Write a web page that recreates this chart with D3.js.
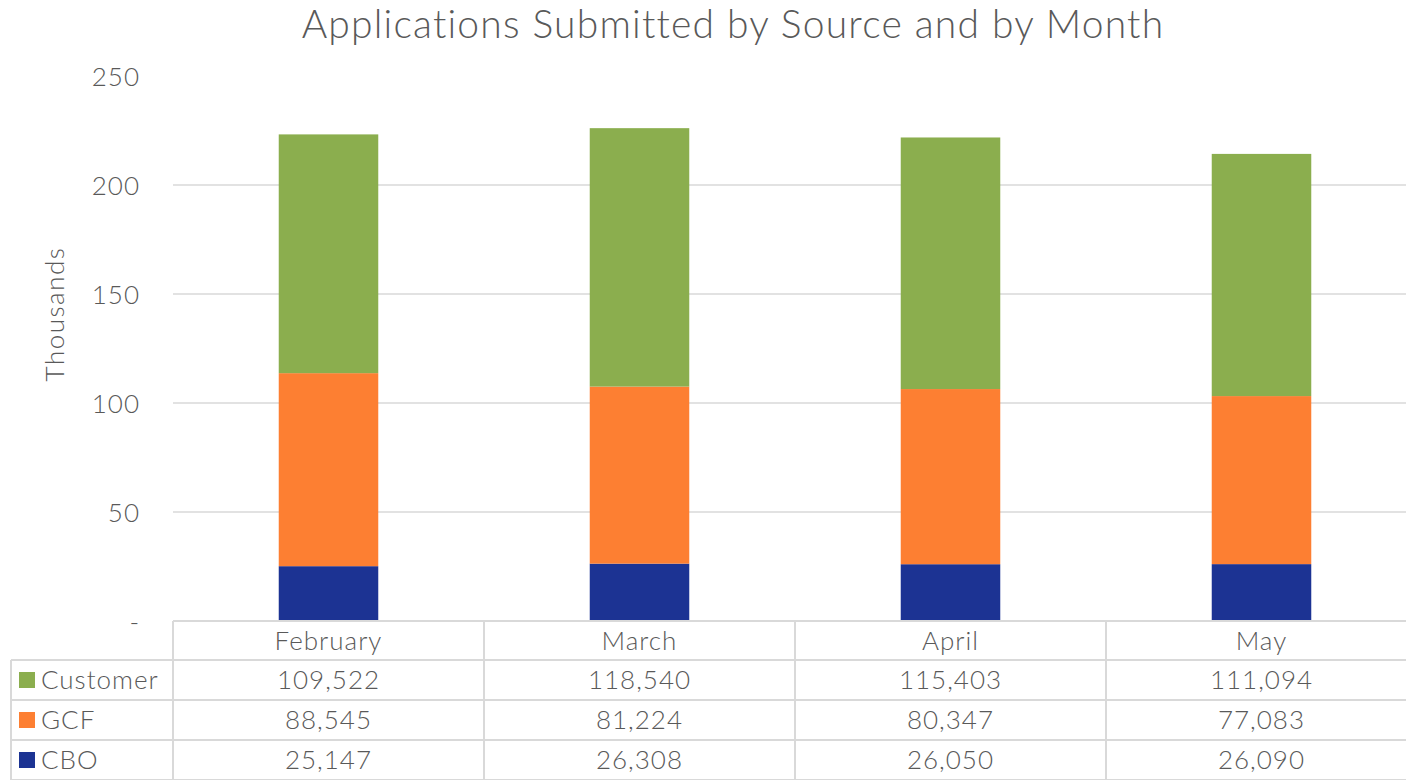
<!DOCTYPE html>
<html>
<head>
<meta charset="utf-8">
<script src="https://cdn.jsdelivr.net/npm/d3@7"></script>
<style>
  body { margin: 0; background: #fff; overflow: hidden; }
  text { font-family: Lato, "Open Sans", sans-serif; font-weight: 300; fill: #595959; letter-spacing: 1px; }
</style>
</head>
<body>
<svg id="chart" width="1406" height="780"></svg>
<script>
var months = ["February", "March", "April", "May"];
var seriesNames = ["CBO", "GCF", "Customer"];
var cbo = [25147, 26308, 26050, 26090];
var gcf = [88545, 81224, 80347, 77083];
var customer = [109522, 118540, 115403, 111094];
var yTicks = [0, 50, 100, 150, 200, 250];
var colors = { CBO: "#1c3393", GCF: "#fd7f32", Customer: "#8bae4e" };

var svg = d3.select("#chart");
var W = 1406, H = 780;
var plotLeft = 173, plotRight = 1417, plotTop = 76, plotBottom = 621;
var rowH = 40, headH = 39, legendLeft = 11;

// rows for stacking
var rows = months.map(function(m, i){
    return { month: m, CBO: cbo[i] / 1000, GCF: gcf[i] / 1000, Customer: customer[i] / 1000 };
});
var stacked = d3.stack().keys(seriesNames)(rows);

var x = d3.scaleBand().domain(months).range([plotLeft, plotRight]);
var y = d3.scaleLinear().domain([0, 250]).range([plotBottom, plotTop]);
var barW = x.bandwidth() * 0.32;

// gridlines (none drawn at the top value)
svg.append("g").selectAll("line")
    .data(yTicks.filter(function(t){ return t > 0 && t < 250; }))
    .enter().append("line")
    .attr("x1", plotLeft).attr("x2", plotRight)
    .attr("y1", function(d){ return y(d); }).attr("y2", function(d){ return y(d); })
    .attr("stroke", "#d9d9d9").attr("stroke-width", 1.5);

// y axis labels
var yAxis = d3.axisLeft(y).tickValues(yTicks).tickSize(0).tickPadding(0)
    .tickFormat(function(d){ return d === 0 ? "-" : d; });
var gy = svg.append("g").attr("transform", "translate(140,0)").call(yAxis);
gy.select(".domain").remove();
gy.selectAll("text").style("font-size", "26px").attr("fill", "#595959")
    .style("font-family", "Lato, sans-serif").style("font-weight", 300).attr("dy", "0.35em");

svg.append("text")
    .attr("transform", "translate(64,314) rotate(-90)")
    .attr("text-anchor", "middle")
    .style("font-size", "26px")
    .style("letter-spacing", "1.5px")
    .text("Thousands");

// bars
svg.append("g").selectAll("g")
    .data(stacked).enter().append("g")
    .attr("fill", function(d){ return colors[d.key]; })
    .selectAll("rect")
    .data(function(d){ return d; })
    .enter().append("rect")
    .attr("x", function(d){ return x(d.data.month) + (x.bandwidth() - barW) / 2; })
    .attr("width", barW)
    .attr("y", function(d){ return y(d[1]); })
    .attr("height", function(d){ return y(d[0]) - y(d[1]); });

// title
svg.append("text")
    .attr("x", 733).attr("y", 38)
    .attr("text-anchor", "middle")
    .style("font-size", "39px")
    .style("letter-spacing", "1.2px")
    .text("Applications Submitted by Source and by Month");

// data table
var tbl = svg.append("g");
var gridColor = "#d9d9d9";
var tableRows = [
    { name: "Customer", vals: customer },
    { name: "GCF", vals: gcf },
    { name: "CBO", vals: cbo }
];
var fmt = d3.format(",");

// horizontal lines
tbl.append("line").attr("x1", plotLeft).attr("x2", plotRight)
    .attr("y1", plotBottom).attr("y2", plotBottom)
    .attr("stroke", gridColor).attr("stroke-width", 2);
[0, 1, 2, 3].forEach(function(i){
    var yy = plotBottom + headH + i * rowH;
    tbl.append("line").attr("x1", legendLeft).attr("x2", plotRight)
        .attr("y1", yy).attr("y2", yy)
        .attr("stroke", gridColor).attr("stroke-width", 2);
});
// vertical lines
tbl.append("line").attr("x1", legendLeft).attr("x2", legendLeft)
    .attr("y1", plotBottom + headH).attr("y2", H)
    .attr("stroke", gridColor).attr("stroke-width", 2);
months.forEach(function(m){
    tbl.append("line").attr("x1", x(m)).attr("x2", x(m))
        .attr("y1", plotBottom).attr("y2", H)
        .attr("stroke", gridColor).attr("stroke-width", 2);
});

// header
tbl.selectAll("text.head").data(months).enter().append("text")
    .attr("class", "head")
    .attr("x", function(d){ return x(d) + x.bandwidth() / 2; })
    .attr("y", plotBottom + headH / 2)
    .attr("dy", "0.35em")
    .attr("text-anchor", "middle")
    .style("font-size", "26px")
    .text(function(d){ return d; });

tableRows.forEach(function(r, i){
    var cy = plotBottom + headH + i * rowH + rowH / 2;
    tbl.append("rect").attr("x", 19).attr("y", cy - 8).attr("width", 16).attr("height", 16)
        .attr("fill", colors[r.name]);
    tbl.append("text").attr("x", 41).attr("y", cy).attr("dy", "0.35em")
        .style("font-size", "26px").text(r.name);
    r.vals.forEach(function(v, j){
        tbl.append("text")
            .attr("x", x(months[j]) + x.bandwidth() / 2)
            .attr("y", cy).attr("dy", "0.35em")
            .attr("text-anchor", "middle")
            .style("font-size", "26px")
            .text(fmt(v));
    });
});
</script>
</body>
</html>
